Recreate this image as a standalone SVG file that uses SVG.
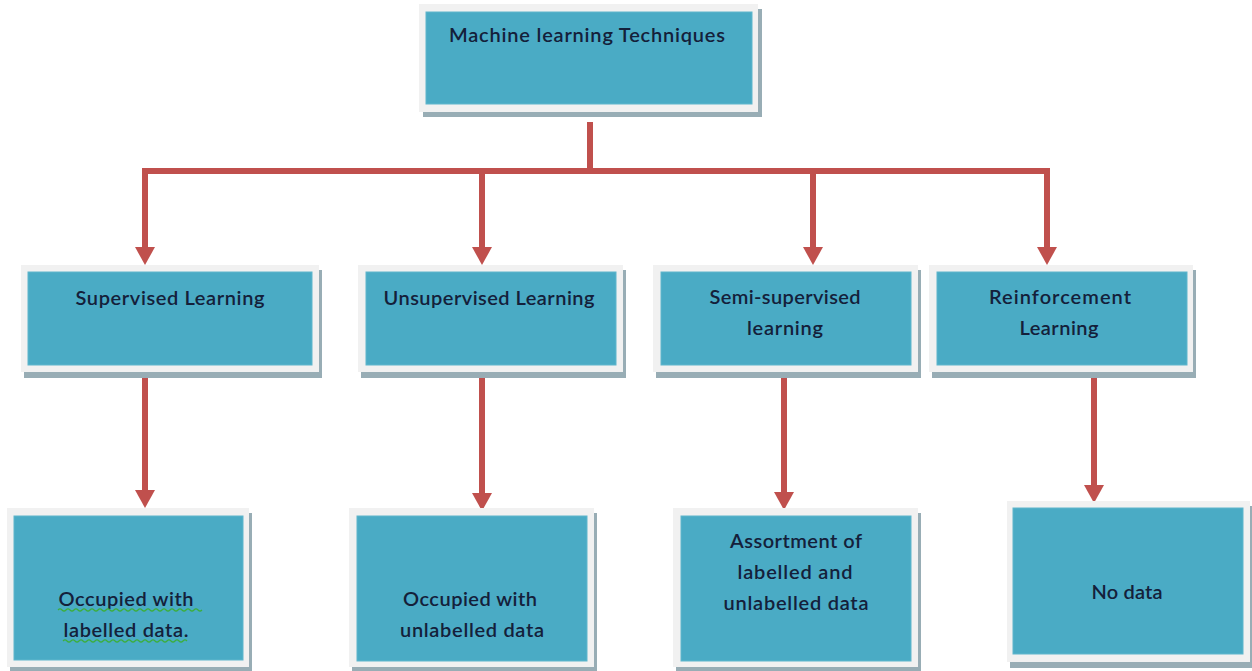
<svg xmlns="http://www.w3.org/2000/svg" width="1252" height="671" viewBox="0 0 1252 671">
<style>
.sh{fill:#98adb5}
.fr{fill:#f1f1f1}
.in{fill:#4aabc5;stroke:#5fb6cc;stroke-width:1}
.t{font-family:Lato,"Liberation Sans",sans-serif;font-size:20px;font-weight:600;fill:#14203a;text-anchor:middle}
.c{fill:none;stroke:#c0504d;stroke-width:6;stroke-linejoin:miter}
.sq{fill:none;stroke:#3cae3c;stroke-width:1.2}
</style>
<defs>
<marker id="ah" markerUnits="userSpaceOnUse" markerWidth="19" markerHeight="22" viewBox="0 -11 19 22" refX="0" refY="0" orient="auto">
<path d="M0,-10 L18,0 L0,10 Z" fill="#c0504d"/>
</marker>
</defs>
<rect width="1252" height="671" fill="#ffffff"/>
<g id="connectors">
<path class="c" d="M590,122 V171"/>
<path class="c" d="M590,171 H145 V247" marker-end="url(#ah)"/>
<path class="c" d="M590,171 H482 V247" marker-end="url(#ah)"/>
<path class="c" d="M590,171 H813 V247" marker-end="url(#ah)"/>
<path class="c" d="M590,171 H1047 V247" marker-end="url(#ah)"/>
<path class="c" d="M145,372 V490" marker-end="url(#ah)"/>
<path class="c" d="M482,372 V493" marker-end="url(#ah)"/>
<path class="c" d="M784,372 V492" marker-end="url(#ah)"/>
<path class="c" d="M1094,372 V485" marker-end="url(#ah)"/>
</g>
<g id="node-top">
<rect class="sh" x="423" y="9" width="339" height="108"/>
<rect class="fr" x="419" y="4" width="339" height="108"/>
<rect class="in" x="426" y="12" width="326" height="92"/>
<text class="t" x="587" y="42" textLength="276" lengthAdjust="spacing">Machine learning Techniques</text>
</g>
<g id="node-supervised">
<rect class="sh" x="24" y="270" width="298" height="108"/>
<rect class="fr" x="21" y="265" width="298" height="107"/>
<rect class="in" x="28" y="272" width="284" height="93"/>
<text class="t" x="170" y="305" textLength="189" lengthAdjust="spacing">Supervised Learning</text>
</g>
<g id="node-unsupervised">
<rect class="sh" x="361" y="270" width="265" height="108"/>
<rect class="fr" x="358" y="265" width="265" height="107"/>
<rect class="in" x="366" y="272" width="250" height="93"/>
<text class="t" x="489" y="305" textLength="211" lengthAdjust="spacing">Unsupervised Learning</text>
</g>
<g id="node-semi">
<rect class="sh" x="656" y="270" width="265" height="108"/>
<rect class="fr" x="653" y="265" width="265" height="107"/>
<rect class="in" x="661" y="272" width="250" height="93"/>
<text class="t" x="785" y="304" textLength="151" lengthAdjust="spacing">Semi-supervised</text>
<text class="t" x="785" y="335" textLength="76" lengthAdjust="spacing">learning</text>
</g>
<g id="node-reinforcement">
<rect class="sh" x="932" y="270" width="264" height="108"/>
<rect class="fr" x="929" y="265" width="264" height="107"/>
<rect class="in" x="937" y="272" width="250" height="93"/>
<text class="t" x="1060" y="304" textLength="142" lengthAdjust="spacing">Reinforcement</text>
<text class="t" x="1059" y="335" textLength="79" lengthAdjust="spacing">Learning</text>
</g>
<g id="node-labelled">
<rect class="sh" x="10" y="513" width="242" height="158"/>
<rect class="fr" x="7" y="508" width="242" height="159"/>
<rect class="in" x="14" y="516" width="229" height="144"/>
<text class="t" x="126" y="606" textLength="135" lengthAdjust="spacing">Occupied with</text>
<text class="t" x="126" y="637" textLength="125" lengthAdjust="spacing">labelled data.</text>
<path class="sq" d="M58,610 q2,-2 4,0 t4,0 t4,0 t4,0 t4,0 t4,0 t4,0 t4,0 t4,0 t4,0 t4,0 t4,0 t4,0 t4,0 t4,0 t4,0 t4,0 t4,0 t4,0 t4,0 t4,0 t4,0 t4,0 t4,0 t4,0 t4,0 t4,0 t4,0 t4,0 t4,0 t4,0 t4,0 t4,0 t4,0 t4,0 t4,0"/>
<path class="sq" d="M63,641 q2,-2 4,0 t4,0 t4,0 t4,0 t4,0 t4,0 t4,0 t4,0 t4,0 t4,0 t4,0 t4,0 t4,0 t4,0 t4,0 t4,0 t4,0 t4,0 t4,0 t4,0 t4,0 t4,0 t4,0 t4,0 t4,0 t4,0 t4,0 t4,0 t4,0 t4,0 t4,0"/>
</g>
<g id="node-unlabelled">
<rect class="sh" x="352" y="513" width="245" height="158"/>
<rect class="fr" x="349" y="508" width="245" height="159"/>
<rect class="in" x="357" y="516" width="230" height="145"/>
<text class="t" x="470" y="606" textLength="134" lengthAdjust="spacing">Occupied with</text>
<text class="t" x="472" y="637" textLength="144" lengthAdjust="spacing">unlabelled data</text>
</g>
<g id="node-assortment">
<rect class="sh" x="676" y="513" width="245" height="158"/>
<rect class="fr" x="673" y="508" width="245" height="159"/>
<rect class="in" x="681" y="516" width="230" height="145"/>
<text class="t" x="796" y="548" textLength="132" lengthAdjust="spacing">Assortment of</text>
<text class="t" x="795" y="579" textLength="115" lengthAdjust="spacing">labelled and</text>
<text class="t" x="796" y="610" textLength="145" lengthAdjust="spacing">unlabelled data</text>
</g>
<g id="node-nodata">
<rect class="sh" x="1010" y="506" width="242" height="162"/>
<rect class="fr" x="1007" y="501" width="243" height="161"/>
<rect class="in" x="1013" y="508" width="230" height="146"/>
<text class="t" x="1127" y="599" textLength="71" lengthAdjust="spacing">No data</text>
</g>
</svg>
